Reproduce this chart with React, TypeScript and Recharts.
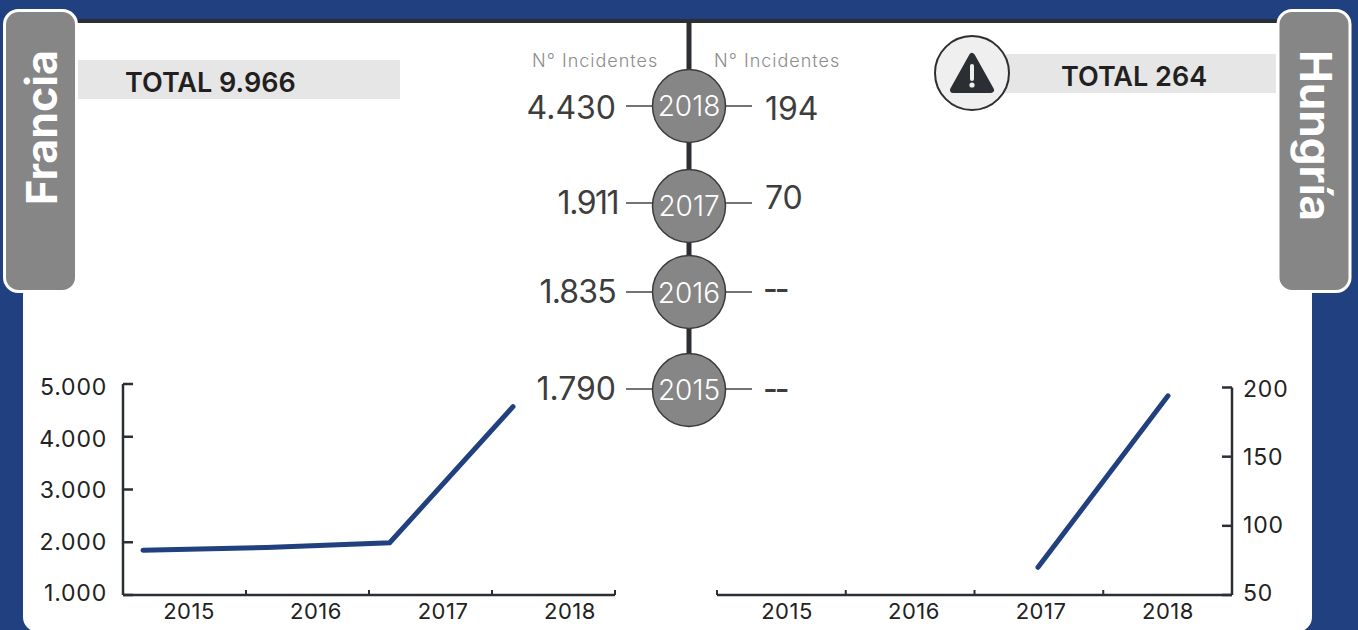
import React from "react";
import { LineChart, Line, XAxis, YAxis } from "recharts";

const years = ["2015", "2016", "2017", "2018"];
const franceLine = [1850, 1900, 1990, 4570];
const hungaryLine: (number | null)[] = [null, null, 70, 194];
const franceTicks = [1000, 2000, 3000, 4000, 5000];
const hungaryTicks = [50, 100, 150, 200];
const boundaryMarks = [0, 1, 2, 3, 4];

const timelineYears = ["2018", "2017", "2016", "2015"];
const franceCounts = ["4.430", "1.911", "1.835", "1.790"];
const hungaryCounts = ["194", "70", "--", "--"];
const franceTotal = "TOTAL 9.966";
const hungaryTotal = "TOTAL 264";

const BLUE = "#21407f";
const DARK = "#2b2f33";
const GREY = "#868686";
const FONT = "Inter, 'Open Sans', sans-serif";

const franceData = years.map((year, slot) => ({ year, slot, value: franceLine[slot] }));
const hungaryData = years.map((year, slot) => ({ year, slot, value: hungaryLine[slot] }));

const dotted = (v: number) => v.toLocaleString("de-DE");
const xTickStyle = { fontFamily: FONT, fontSize: 22, letterSpacing: 0.5, fill: "#222" };
const yTickStyle = { fontFamily: FONT, fontSize: 23, letterSpacing: 0.8, fill: "#222" };
const noLabel = () => <g />;

const rows = [
  { cy: 106, text: 106, lineY: 106, leftY: 107, rightY: 108, leftEnd: 616, spacing: 0 },
  { cy: 206, text: 206, lineY: 203, leftY: 202, rightY: 197, leftEnd: 618, spacing: -1.5 },
  { cy: 292, text: 293, lineY: 292, leftY: 291, rightY: 288, leftEnd: 616, spacing: -0.8 },
  { cy: 390, text: 390, lineY: 389, leftY: 388, rightY: 388, leftEnd: 616, spacing: 0 },
];

function Backdrop() {
  return (
    <svg width={1358} height={630} style={{ position: "absolute", left: 0, top: 0 }}>
      <rect width={1358} height={630} fill={BLUE} />
      <rect x={23} y={22} width={1289} height={610} rx={15} fill="#fff" />
      <rect x={23} y={19} width={1289} height={4} fill={DARK} />
      <rect x={78} y={60} width={322} height={39} fill="#e6e6e6" />
      <text x={125} y={92} fontFamily={FONT} fontSize={27} fontWeight={600} fill="#231f20">{franceTotal}</text>
      <rect x={1005} y={54} width={271} height={39} fill="#e6e6e6" />
      <text x={1061} y={86} fontFamily={FONT} fontSize={27} fontWeight={600} fill="#231f20">{hungaryTotal}</text>
      <circle cx={972} cy={73} r={37} fill="#efefef" stroke={DARK} strokeWidth={2} />
      <path d="M972 56 L991 90 L953 90 Z" fill={DARK} stroke={DARK} strokeWidth={6} strokeLinejoin="round" />
      <rect x={970} y={64} width={4} height={17} rx={2} fill="#efefef" />
      <circle cx={972} cy={85} r={2.6} fill="#efefef" />
      <rect x={4.5} y={10.5} width={72} height={281} rx={14} fill={GREY} stroke="#fff" strokeWidth={3} />
      <text transform="translate(57 205) rotate(-90)" fontFamily={FONT} fontSize={43} fontWeight={700} fill="#fff">Francia</text>
      <rect x={1278} y={10.5} width={72} height={281} rx={14} fill={GREY} stroke="#fff" strokeWidth={3} />
      <text transform="translate(1300 50) rotate(90)" fontFamily={FONT} fontSize={44} fontWeight={700} fill="#fff">Hungría</text>

      <rect x={686.5} y={22} width={5} height={360} fill={DARK} />
      <text x={532} y={67} fontFamily={FONT} fontSize={18} letterSpacing={1} fontWeight={300} fill="#8c8c8c">N° Incidentes</text>
      <text x={714} y={67} fontFamily={FONT} fontSize={18} letterSpacing={1} fontWeight={300} fill="#8c8c8c">N° Incidentes</text>
      {timelineYears.map((y, i) => {
        const r = rows[i];
        const dashes = hungaryCounts[i] === "--";
        return (
          <g key={y}>
            <line x1={626} x2={752} y1={r.lineY} y2={r.lineY} stroke="#444" strokeWidth={1.5} />
            <circle cx={689} cy={r.cy} r={36.5} fill={GREY} stroke="#3a3a3a" strokeWidth={1.5} />
            <text x={689} y={r.text + 10} textAnchor="middle" fontFamily={FONT} fontSize={28} fontWeight={300} fill="#fff">{y}</text>
            <text x={r.leftEnd} y={r.leftY + 12} textAnchor="end" letterSpacing={r.spacing} fontFamily={FONT} fontSize={32} fontWeight={400} fill="#3d3d3d">{franceCounts[i]}</text>
            <text x={dashes ? 763 : 765} y={r.rightY + 12} fontFamily={FONT} fontSize={32} fontWeight={dashes ? 500 : 400} letterSpacing={dashes ? -3 : 0} fill="#3d3d3d">{hungaryCounts[i]}</text>
          </g>
        );
      })}
    </svg>
  );
}

function FranceChart() {
  return (
    <div style={{ position: "absolute", left: 0, top: 360 }}>
      <LineChart width={640} height={270} data={franceData} margin={{ top: 24, right: 25, bottom: 0, left: 3 }}>
        <XAxis xAxisId="marks" dataKey="slot" type="number" domain={[0, 4]} ticks={boundaryMarks} mirror tick={noLabel} tickSize={5} interval={0}
          axisLine={{ stroke: DARK, strokeWidth: 2.5 }} tickLine={{ stroke: DARK, strokeWidth: 2 }} />
        <XAxis xAxisId="labels" dataKey="year" scale="point" padding={{ left: 66, right: 45 }} height={35} interval={0}
          axisLine={false} tickLine={false} tickSize={0} tickMargin={8} tick={xTickStyle} />
        <XAxis xAxisId="line" dataKey="year" scale="point" padding={{ left: 20, right: 102 }} hide />
        <YAxis yAxisId="marks" type="number" domain={[1000, 5000]} ticks={franceTicks} mirror tick={noLabel} tickSize={10} width={1} interval={0}
          axisLine={{ stroke: DARK, strokeWidth: 2.5 }} tickLine={{ stroke: DARK, strokeWidth: 2.5 }} />
        <YAxis yAxisId="labels" type="number" domain={[1000, 5000]} ticks={franceTicks} padding={{ top: 3, bottom: 2 }} width={120} interval={0}
          axisLine={false} tickLine={false} tickSize={0} tickMargin={16} tickFormatter={dotted} tick={yTickStyle} />
        <Line xAxisId="marks" yAxisId="labels" dataKey="value" stroke="none" dot={false} isAnimationActive={false} />
        <Line xAxisId="line" yAxisId="marks" dataKey="value" stroke={BLUE} strokeWidth={5} strokeLinecap="round" dot={false} isAnimationActive={false} />
      </LineChart>
    </div>
  );
}

function HungaryChart() {
  return (
    <div style={{ position: "absolute", left: 700, top: 360 }}>
      <LineChart width={658} height={270} data={hungaryData} margin={{ top: 27.5, right: 26, bottom: 0, left: 17 }}>
        <XAxis xAxisId="marks" dataKey="slot" type="number" domain={[0, 4]} ticks={boundaryMarks} mirror tick={noLabel} tickSize={5} interval={0}
          axisLine={{ stroke: DARK, strokeWidth: 2.5 }} tickLine={{ stroke: DARK, strokeWidth: 2 }} />
        <XAxis xAxisId="labels" dataKey="year" scale="point" padding={{ left: 70, right: 64 }} height={35} interval={0}
          axisLine={false} tickLine={false} tickSize={0} tickMargin={8} tick={xTickStyle} />
        <XAxis xAxisId="line" dataKey="year" scale="point" padding={{ left: 61, right: 64 }} hide />
        <YAxis yAxisId="marks" orientation="right" type="number" domain={[50, 200]} ticks={hungaryTicks} mirror tick={noLabel} tickSize={10} width={1} interval={0}
          axisLine={{ stroke: DARK, strokeWidth: 2.5 }} tickLine={{ stroke: DARK, strokeWidth: 2.5 }} />
        <YAxis yAxisId="labels" orientation="right" type="number" domain={[50, 200]} ticks={hungaryTicks} padding={{ top: 1, bottom: 2 }} width={100} interval={0}
          axisLine={false} tickLine={false} tickSize={0} tickMargin={11} tick={yTickStyle} />
        <Line xAxisId="marks" yAxisId="labels" dataKey="value" stroke="none" dot={false} isAnimationActive={false} />
        <Line xAxisId="line" yAxisId="marks" dataKey="value" stroke={BLUE} strokeWidth={5} strokeLinecap="round" dot={false} isAnimationActive={false} />
      </LineChart>
    </div>
  );
}

export default function App() {
  return (
    <div style={{ position: "absolute", left: 0, top: 0, width: 1358, height: 630, overflow: "hidden" }}>
      <Backdrop />
      <FranceChart />
      <HungaryChart />
    </div>
  );
}
